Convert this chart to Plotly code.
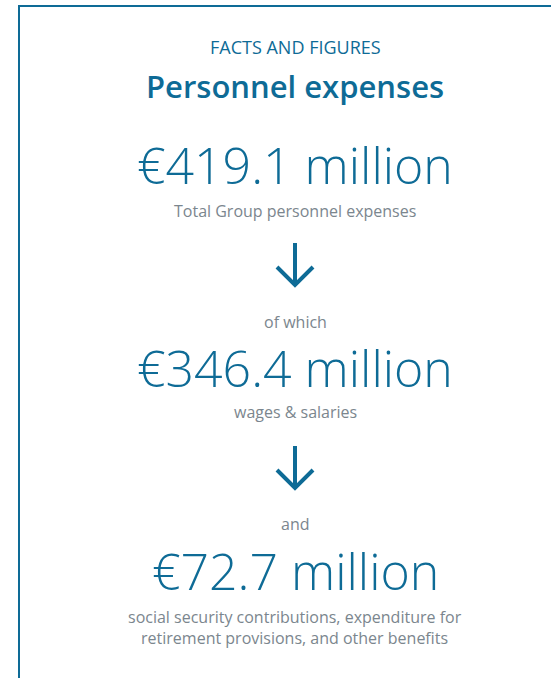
import plotly.graph_objects as go

# ---- data ----
kicker = "FACTS AND FIGURES"
title = "Personnel expenses"
amounts = [419.1, 346.4, 72.7]          # € million
amount_labels = ["Total Group personnel expenses",
                 "wages & salaries",
                 "social security contributions, expenditure for<br>retirement provisions, and other benefits"]
connectors = ["of which", "and"]

BLUE = "#0e6b96"
GRAY = "#7b868e"
FONT = "Open Sans"
CX = 295

fig = go.Figure()
fig.add_trace(go.Scatter(x=[0, 551], y=[0, 678], mode="markers",
                         marker=dict(opacity=0), hoverinfo="skip", showlegend=False))

ann = []
def txt(y, s, size, color, weight=400, h=None):
    d = dict(x=CX, y=y, xref="x", yref="y", text=s, showarrow=False,
             xanchor="center", yanchor="middle",
             font=dict(family=FONT, size=size, color=color, weight=weight),
             align="center")
    if h:
        d["height"] = h
    ann.append(d)

txt(47, kicker, 18, BLUE, 400)
txt(86, title, 31, BLUE, 600)

amount_y = [165, 368, 571]
label_y = [211, 412, 627]
for a, l, ay, ly in zip(amounts, amount_labels, amount_y, label_y):
    txt(ay, f"€{a:.1f} million", 50, BLUE, 300, h=44)
    txt(ly, l, 16, GRAY, 400)

conn_y = [322, 524]
for c, cy in zip(connectors, conn_y):
    txt(cy, c, 16, GRAY, 400)

shapes = []
# border (top and left)
shapes.append(dict(type="line", x0=18, x1=560, y0=6, y1=6, xref="x", yref="y",
                   line=dict(color=BLUE, width=2)))
shapes.append(dict(type="line", x0=19, x1=19, y0=5, y1=690, xref="x", yref="y",
                   line=dict(color=BLUE, width=2)))
# arrows
arrow_top = [243, 446]
for t in arrow_top:
    b = t + 43
    shapes.append(dict(type="line", x0=CX, x1=CX, y0=t, y1=b - 1, xref="x", yref="y",
                       line=dict(color=BLUE, width=4)))
    shapes.append(dict(type="path", path=f"M {CX-18},{b-19} L {CX},{b-1} L {CX+18},{b-19}",
                       xref="x", yref="y", line=dict(color=BLUE, width=4)))

fig.update_layout(
    width=551, height=678, margin=dict(l=0, r=0, t=0, b=0),
    paper_bgcolor="white", plot_bgcolor="white",
    xaxis=dict(range=[0, 551], visible=False, fixedrange=True),
    yaxis=dict(range=[678, 0], visible=False, fixedrange=True),
    annotations=ann, shapes=shapes, showlegend=False,
)
fig.write_html("out.html", config={"displayModeBar": False},
               post_script="document.body.style.margin='0';")
